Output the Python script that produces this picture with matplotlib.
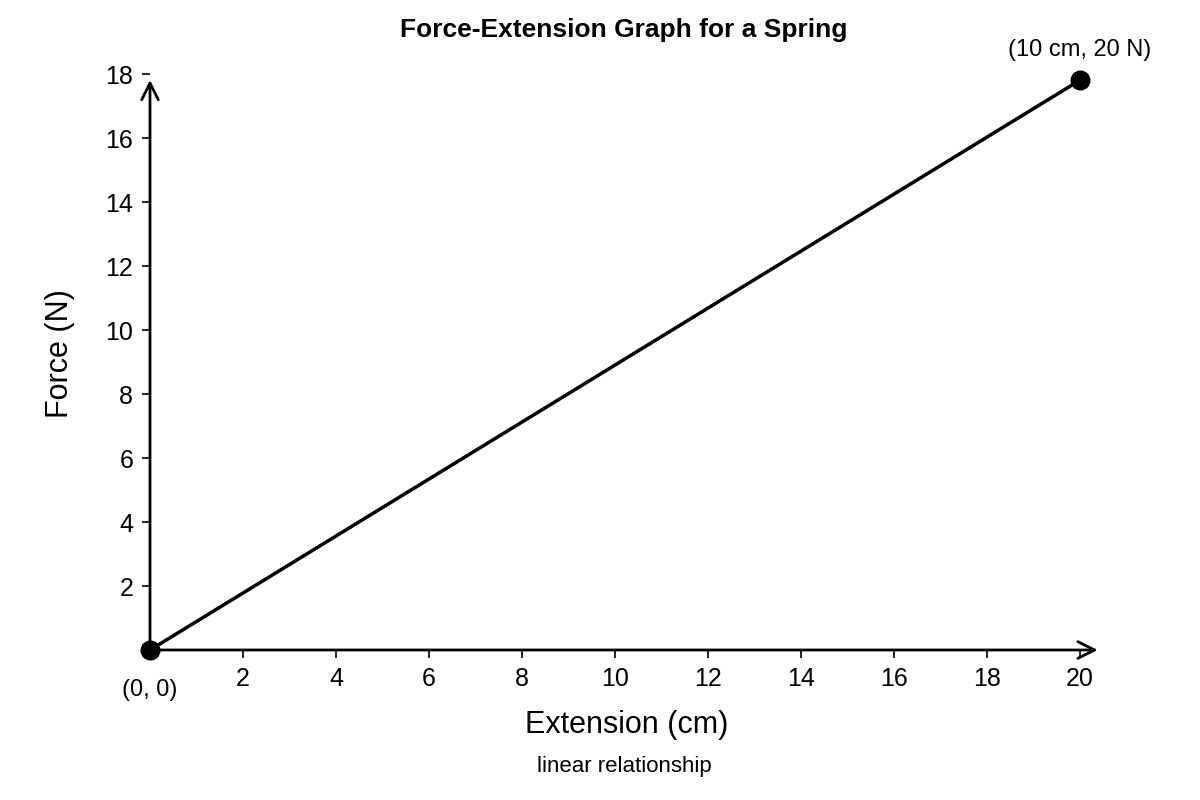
import matplotlib.pyplot as plt

plt.rcParams['font.family'] = ['Liberation Sans', 'DejaVu Sans']

# data
extension = [0, 20]
force = [0, 17.8]
x_ticks = [2, 4, 6, 8, 10, 12, 14, 16, 18, 20]
y_ticks = [2, 4, 6, 8, 10, 12, 14, 16, 18]

fig = plt.figure(figsize=(12, 8), dpi=100)
ax = fig.add_axes([0.125, 0.1875, 0.794, 0.74])
ax.set_xlim(0, 20.5)
ax.set_ylim(0, 18.5)

ax.plot(extension, force, color='black', lw=2.5, zorder=3)
ax.scatter(extension, force, s=180, color='black', zorder=4, clip_on=False)

# axes with arrow heads
for s in ax.spines.values():
    s.set_visible(False)
ax.annotate('', xy=(20.45, 0), xytext=(0, 0),
            arrowprops=dict(arrowstyle='->', lw=2, color='black', mutation_scale=30),
            annotation_clip=False)
ax.annotate('', xy=(0, 17.9), xytext=(0, 0),
            arrowprops=dict(arrowstyle='->', lw=2, color='black', mutation_scale=30),
            annotation_clip=False)

ax.set_xticks(x_ticks)
ax.set_yticks(y_ticks)
ax.tick_params(labelsize=18, length=6, width=1.2, pad=6)

ax.text(0, -0.9, '(0, 0)', ha='center', va='top', fontsize=17)
ax.text(20, 18.4, '(10 cm, 20 N)', ha='center', va='bottom', fontsize=17)

ax.set_xlabel('Extension (cm)', fontsize=22, labelpad=14)
ax.set_ylabel('Force (N)', fontsize=22, labelpad=22)
fig.text(0.52, 0.035, 'linear relationship', ha='center', fontsize=16)
fig.text(0.52, 0.962, 'Force-Extension Graph for a Spring', ha='center',
         va='center', fontsize=19, fontweight='bold')

fig.savefig('out.png', dpi=100)
